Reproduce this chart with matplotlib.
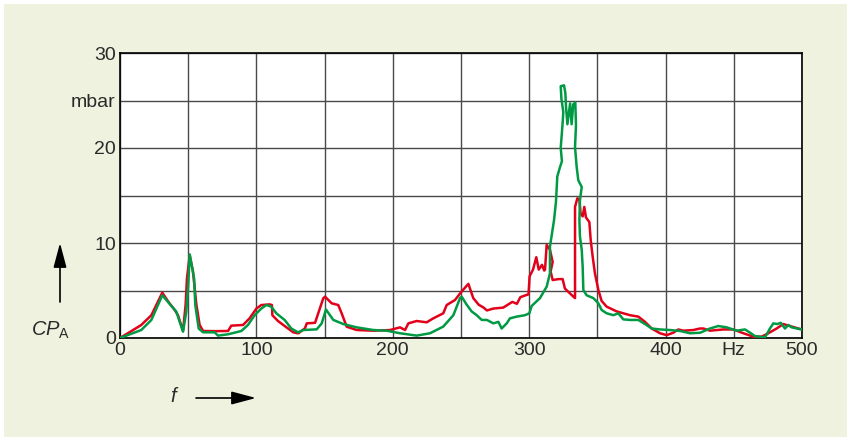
import matplotlib
matplotlib.use("Agg")
import matplotlib.pyplot as plt
from matplotlib.patches import Rectangle

# spectrum, frequency in Hz, pressure in mbar
red_hz = [0, 8, 15.6, 23, 31, 36, 40.1, 42.5, 46.2, 48.1, 49.1, 51.1, 53.5, 56, 58.4, 60.9,
          70, 79.2, 81.6, 90.2, 95, 100, 103.6, 109.7, 111.4, 111.7, 115.8, 123.2, 127,
          130.7, 135.6, 136.9, 143, 149, 150.3, 155.2, 160, 162.5, 166.2, 173.5, 185.7, 198,
          205.3, 209, 211.4, 217.5, 224.8, 229.7, 237, 239.5, 245.6, 250.5, 255.4, 259, 263,
          266.6, 269, 273.7, 281, 287.6, 291, 293.5, 299.5, 300.3, 302.8, 305.2, 307, 309.4,
          311, 311.6, 312.8, 315.2, 317.2, 315.7, 317.2, 321.4, 324.5, 326.2, 332.4, 333.6,
          333.6, 335.3, 336.8, 337.7, 339.2, 340.4, 341.6, 344.1, 345.1, 346.5, 348.2, 350.7,
          353.1, 356.8, 364.1, 373.9, 380, 384.9, 389.8, 395.9, 400.8, 405.7, 409.3, 413,
          420.3, 425.2, 427.7, 432.6, 442.3, 449.6, 457, 464.3, 470.4, 475.3, 481.4, 486.3,
          491.2, 498.5, 500]
red_mbar = [0, 0.7, 1.37, 2.4, 4.77, 3.7, 2.95, 2.4, 0.74, 3.5, 6.3, 8.7, 7.0, 3.5, 1.37, 0.74,
            0.72, 0.74, 1.3, 1.37, 2.07, 3.1, 3.47, 3.54, 3.47, 2.4, 1.79, 1.0, 0.6,
            0.49, 1.02, 1.54, 1.6, 4.17, 4.35, 3.65, 3.47, 2.6, 1.19, 0.84, 0.77, 0.84,
            1.12, 0.84, 1.54, 1.79, 1.65, 2.07, 2.6, 3.47, 4.0, 4.9, 5.7, 4.2, 3.5,
            3.2, 2.9, 3.1, 3.2, 3.8, 3.6, 4.3, 4.6, 6.5, 7.2, 8.5, 7.2, 7.7,
            7.1, 7.2, 9.8, 9.3, 8.0, 7.0, 6.1, 6.2, 6.2, 5.2, 4.35, 4.2,
            13.8, 14.7, 14.6, 13.1, 12.8, 13.8, 12.7, 12.2, 10.3, 8.6, 6.8, 5.05,
            3.9, 3.3, 2.8, 2.4, 2.25, 1.7, 1.0, 0.5, 0.3, 0.56, 0.9, 0.77,
            0.84, 1.0, 1.0, 0.77, 0.9, 0.9, 0.5, 0.14, 0.14, 0.5, 1.0, 1.47,
            1.26, 0.95, 0.9]

green_hz = [0, 15.6, 23, 31, 41.3, 46.2, 48.6, 50, 51.1, 54.3, 55.2, 57.7, 60.9, 69.4, 71.8,
            79.2, 89, 93.8, 98.7, 103.6, 107.3, 110.9, 114.6, 120.7, 125.6, 130.5, 134.4,
            144.2, 147.9, 151, 156.4, 163.7, 173.5, 185.7, 195.5, 205.3, 217.5, 227.3, 237,
            244.4, 249.3, 250.5, 254.2, 257.8, 261.5, 265.2, 269, 273.7, 277.4, 279.8, 283.5,
            285.9, 290.8, 296.9, 300.1, 301.8, 307.9, 312.8, 315.2, 315.2, 318.2, 319.6, 320.6,
            322.6, 324, 323.1, 324.5, 325, 323.6, 323.1, 325.5, 326.5, 327, 328, 330, 331.1,
            332.3, 333.8, 334.3, 333.6, 334.8, 336, 338.5, 337.2, 336.8, 337.2, 338.5, 339.2,
            339.7, 342.1, 347, 350.7, 353.1, 356.8, 361.7, 365.3, 369, 373.9, 380, 384.9,
            389.8, 395.9, 403.2, 410.6, 417.9, 425.2, 432.6, 438.6, 444.8, 452.1, 458.2,
            461.9, 465.5, 472.9, 476.5, 479, 481.9, 484.4, 487.5, 490, 492.4, 499.8, 500]
green_mbar = [0, 0.84, 1.9, 4.5, 2.77, 0.67, 2.77, 5.5, 8.8, 6.3, 3.47, 1.0, 0.6, 0.6, 0.25,
              0.39, 0.74, 1.37, 2.4, 3.1, 3.47, 3.3, 2.6, 1.9, 1.0, 0.6, 0.84,
              0.91, 1.54, 3.0, 1.9, 1.47, 1.12, 0.84, 0.77, 0.5, 0.25, 0.5, 1.2,
              2.4, 4.2, 4.35, 3.5, 2.8, 2.4, 1.9, 1.9, 1.54, 1.7, 1.0, 1.54,
              2.07, 2.25, 2.4, 2.6, 3.37, 4.2, 5.4, 6.8, 9.6, 12.4, 14.3, 17.0,
              18.0, 18.6, 20.0, 22.6, 23.8, 25.2, 26.5, 26.6, 25.8, 24.3, 22.5, 24.7, 22.5,
              24.6, 24.8, 22.4, 20.1, 18.0, 16.6, 15.9, 14.5, 12.4, 10.7, 9.3, 7.5,
              5.05, 4.5, 4.2, 3.65, 2.95, 2.6, 2.4, 2.6, 1.96, 1.9, 1.9, 1.47,
              1.0, 0.9, 0.84, 0.74, 0.5, 0.55, 1.0, 1.26, 1.12, 0.77, 0.9,
              0.56, 0.2, 0.07, 1.0, 1.54, 1.47, 1.6, 1.0, 1.37, 1.12, 0.9, 0.9]

x_ticks = list(range(0, 501, 50))
x_labels = ["0", "", "100", "", "200", "", "300", "", "400", "Hz", "500"]
y_ticks = list(range(0, 31, 5))
y_labels = ["0", "", "10", "", "20", "mbar", "30"]

plt.rcParams["font.family"] = ["Liberation Sans", "DejaVu Sans"]
plt.rcParams["mathtext.fontset"] = "custom"
plt.rcParams["mathtext.rm"] = "Liberation Sans"
plt.rcParams["mathtext.it"] = "Liberation Sans:italic"

W, H = 851, 441
fig = plt.figure(figsize=(W / 100, H / 100), dpi=100, facecolor="white")
fig.add_artist(Rectangle((4 / W, 4 / H), 1 - 8 / W, 1 - 8 / H, transform=fig.transFigure,
                         facecolor="#eef2de", edgecolor="none", zorder=-10))

ax = fig.add_axes([120 / W, 1 - 338 / H, 682 / W, 285 / H])
ax.set_zorder(1)
ax.set_facecolor("white")
ax.plot(red_hz, red_mbar, color="#e2001a", lw=1.8, zorder=3)
ax.plot(green_hz, green_mbar, color="#009a44", lw=1.8, zorder=4)

ax.set_xlim(0, 500)
ax.set_ylim(0, 30)
ax.set_xticks(x_ticks)
ax.set_xticklabels(x_labels)
ax.set_yticks(y_ticks)
ax.set_yticklabels(y_labels)
ax.tick_params(length=0, labelsize=14, colors="#2a2a2a", pad=3)
ax.grid(True, color="#4a4a4a", lw=1.0)
ax.set_axisbelow(True)
for s in ax.spines.values():
    s.set_color("black")
    s.set_linewidth(1.2)

# axis captions with arrows, placed in figure pixels
arrow = dict(arrowstyle="-|>,head_length=1.5,head_width=0.4", color="black",
             lw=1.2, mutation_scale=10, shrinkA=0, shrinkB=0)
fig.add_artist(plt.Annotation("", xy=(60, H - 243), xytext=(60, H - 302),
                              xycoords="figure pixels", textcoords="figure pixels",
                              arrowprops=arrow))
fig.add_artist(plt.Annotation("", xy=(256, H - 398), xytext=(196, H - 398),
                              xycoords="figure pixels", textcoords="figure pixels",
                              arrowprops=arrow))
fig.text(51 / W, 1 - 330 / H, r"$\mathit{CP}_{\mathrm{A}}$", fontsize=14.5,
         ha="center", va="center", color="#2a2a2a")
fig.text(173 / W, 1 - 396 / H, "f", fontsize=14.5, style="italic",
         ha="center", va="center", color="#2a2a2a")

fig.savefig("out.png", dpi=100, facecolor=fig.get_facecolor())
